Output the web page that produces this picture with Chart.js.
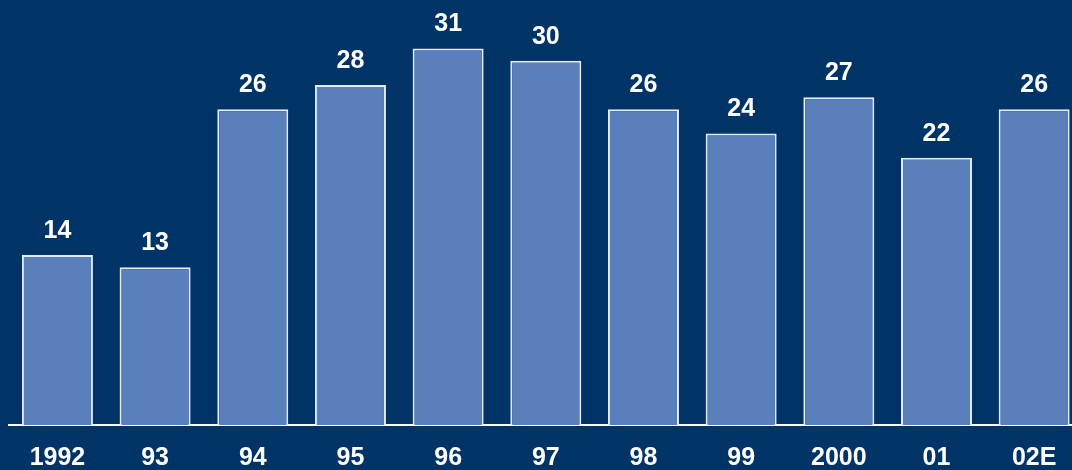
<!DOCTYPE html>
<html>
<head>
<meta charset="utf-8">
<script src="https://cdn.jsdelivr.net/npm/chart.js@4.4.1/dist/chart.umd.min.js"></script>
<style>
  html, body { margin: 0; padding: 0; background: #003366; overflow: hidden; }
  #wrap { position: relative; width: 1084px; height: 470px; }
</style>
</head>
<body>
<div id="wrap"><canvas id="c"></canvas></div>
<script>
// Years on the x axis
const categories = ['1992', '93', '94', '95', '96', '97', '98', '99', '2000', '01', '02E'];
// Value per year
const values = [14, 13, 26, 28, 31, 30, 26, 24, 27, 22, 26];

const FONT = '"Liberation Sans", Arial, sans-serif';

// Writes each bar's value above it
const valueLabels = {
  id: 'valueLabels',
  afterDatasetsDraw(chart) {
    const ctx = chart.ctx;
    const meta = chart.getDatasetMeta(0);
    ctx.save();
    ctx.fillStyle = '#ffffff';
    ctx.font = 'bold 25px ' + FONT;
    ctx.textAlign = 'center';
    ctx.textBaseline = 'middle';
    meta.data.forEach((bar, i) => {
      ctx.fillText(String(values[i]), bar.x, bar.y - 24);
    });
    ctx.restore();
  }
};

new Chart(document.getElementById('c'), {
  type: 'bar',
  data: {
    labels: categories,
    datasets: [{
      data: values,
      backgroundColor: '#5a80bb',
      borderColor: '#e4ebf6',
      borderWidth: 2,
      borderSkipped: 'bottom',
      categoryPercentage: 1,
      barPercentage: 0.727
    }]
  },
  options: {
    responsive: true,
    maintainAspectRatio: false,
    animation: false,
    layout: { padding: { left: 8.6, right: 1, top: 0, bottom: 0 } },
    plugins: { legend: { display: false }, tooltip: { enabled: false } },
    scales: {
      x: {
        grid: { display: false },
        border: { display: true, color: '#ffffff', width: 2 },
        ticks: {
          color: '#ffffff',
          padding: 10,
          font: { family: FONT, size: 25, weight: 'bold' }
        },
        afterFit(scale) { scale.height = 45; }
      },
      y: {
        display: false,
        min: 0,
        max: 35
      }
    }
  },
  plugins: [valueLabels]
});
</script>
</body>
</html>
